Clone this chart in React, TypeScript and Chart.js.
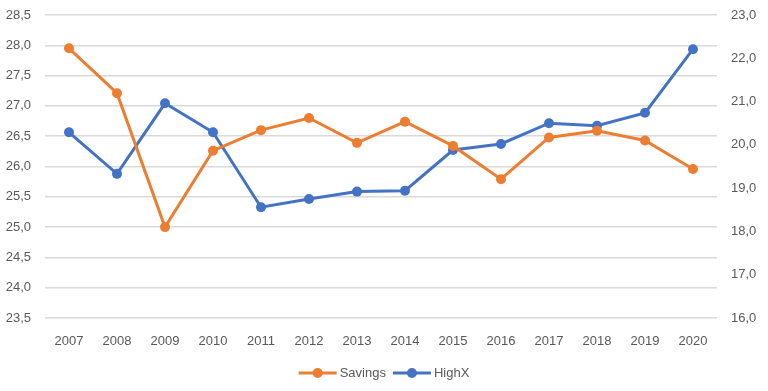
import React, { useEffect, useRef } from "react";
import { Chart, registerables } from "chart.js";

Chart.register(...registerables);

const years = ["2007","2008","2009","2010","2011","2012","2013","2014","2015","2016","2017","2018","2019","2020"];
const savings = [27.95, 27.21, 25.0, 26.26, 26.6, 26.8, 26.39, 26.74, 26.34, 25.79, 26.48, 26.59, 26.43, 25.96];
const highX = [20.29, 19.33, 20.96, 20.29, 18.56, 18.75, 18.92, 18.94, 19.88, 20.02, 20.5, 20.44, 20.74, 22.21];

const ORANGE = "#ED7D31";
const BLUE = "#4472C4";
const TXT = "#595959";
const FONT = "'Liberation Sans', Arial, sans-serif";

const fmt = (v: number) => Number(v).toFixed(1).replace(".", ",");

const legendPlugin = {
  id: "customLegend",
  afterDraw(chart: any) {
    const ctx = chart.ctx;
    const items = [
      { label: "Savings", color: ORANGE },
      { label: "HighX", color: BLUE },
    ];
    ctx.save();
    ctx.font = `13px ${FONT}`;
    const marker = 38;
    const gap = 3;
    const between = 7;
    const widths = items.map((it) => marker + gap + ctx.measureText(it.label).width);
    const total = widths.reduce((a, b) => a + b, 0) + between;
    let x = (chart.width - total) / 2;
    const y = 373;
    items.forEach((it, i) => {
      ctx.strokeStyle = it.color;
      ctx.lineWidth = 3;
      ctx.beginPath();
      ctx.moveTo(x, y);
      ctx.lineTo(x + marker, y);
      ctx.stroke();
      ctx.fillStyle = it.color;
      ctx.beginPath();
      ctx.arc(x + marker / 2, y, 5, 0, Math.PI * 2);
      ctx.fill();
      ctx.fillStyle = TXT;
      ctx.textBaseline = "middle";
      ctx.textAlign = "left";
      ctx.fillText(it.label, x + marker + gap, y);
      x += widths[i] + between;
    });
    ctx.restore();
  },
};

export default function App() {
  const ref = useRef<HTMLCanvasElement>(null);
  useEffect(() => {
    if (!ref.current) return;
    const chart = new Chart(ref.current, {
      type: "line",
      data: {
        labels: years,
        datasets: [
          {
            label: "Savings",
            data: savings,
            yAxisID: "y",
            borderColor: ORANGE,
            backgroundColor: ORANGE,
            borderWidth: 3,
            pointRadius: 5,
            pointBackgroundColor: ORANGE,
            pointBorderWidth: 0,
            tension: 0,
          },
          {
            label: "HighX",
            data: highX,
            yAxisID: "y1",
            borderColor: BLUE,
            backgroundColor: BLUE,
            borderWidth: 3,
            pointRadius: 5,
            pointBackgroundColor: BLUE,
            pointBorderWidth: 0,
            tension: 0,
          },
        ],
      },
      options: {
        animation: false,
        responsive: false,
        maintainAspectRatio: false,
        layout: { padding: { top: 15, bottom: 38, left: 0, right: 0 } },
        plugins: { legend: { display: false }, tooltip: { enabled: false } },
        scales: {
          x: {
            offset: true,
            grid: { display: false },
            border: { display: false },
            ticks: { color: TXT, font: { family: FONT, size: 13 }, padding: 8, maxRotation: 0 },
            afterFit: (s: any) => { s.height = 35; },
          },
          y: {
            position: "left",
            min: 23.5,
            max: 28.5,
            grid: { color: "#D9D9D9", lineWidth: 1.5, drawTicks: false },
            border: { display: false },
            ticks: { stepSize: 0.5, color: TXT, font: { family: FONT, size: 13 }, padding: 14, callback: (v: any) => fmt(v) },
            afterFit: (s: any) => { s.width = 45; s.paddingTop = 0; s.paddingBottom = 0; },
          },
          y1: {
            position: "right",
            min: 16,
            max: 23,
            grid: { display: false, drawTicks: false },
            border: { display: false },
            ticks: { stepSize: 1, color: TXT, font: { family: FONT, size: 13 }, padding: 14, callback: (v: any) => fmt(v) },
            afterFit: (s: any) => { s.width = 51; s.paddingTop = 0; s.paddingBottom = 0; },
          },
        },
      },
      plugins: [legendPlugin],
    });
    return () => chart.destroy();
  }, []);
  return (
    <div style={{ position: "absolute", left: 0, top: 0, width: 768, height: 391, background: "#fff" }}>
      <canvas ref={ref} width={768} height={391} style={{ width: 768, height: 391 }} />
    </div>
  );
}
